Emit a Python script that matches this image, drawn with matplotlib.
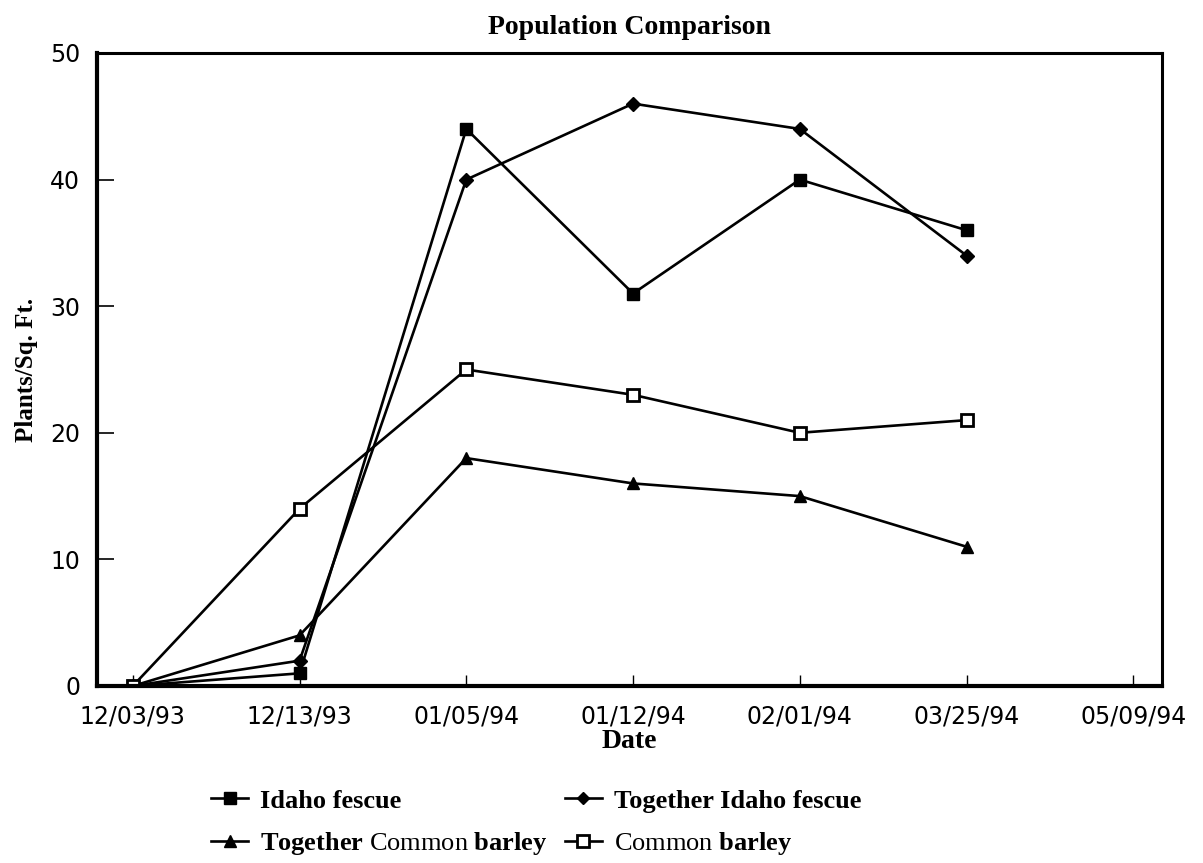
import matplotlib
matplotlib.use("Agg")
import matplotlib.pyplot as plt

# data
dates = ["12/03/93", "12/13/93", "01/05/94", "01/12/94", "02/01/94", "03/25/94", "05/09/94"]
idaho_fescue = [0, 1, 44, 31, 40, 36]
together_idaho = [0, 2, 40, 46, 44, 34]
together_barley = [0, 4, 18, 16, 15, 11]
common_barley = [0, 14, 25, 23, 20, 21]
yticks = [0, 10, 20, 30, 40, 50]

plt.rcParams['mathtext.fontset'] = 'custom'
plt.rcParams['mathtext.rm'] = 'Liberation Serif'
plt.rcParams['mathtext.bf'] = 'Liberation Serif:bold'

serif = 'Liberation Serif'

fig = plt.figure(figsize=(12.03, 8.63), dpi=100)
ax = fig.add_axes([0.0806, 0.2051, 0.885, 0.7335])

x = list(range(len(idaho_fescue)))
lw = 1.9
h1, = ax.plot(x, idaho_fescue, color='black', lw=lw, marker='s', ms=9, mfc='black', mec='black')
h2, = ax.plot(x, together_idaho, color='black', lw=lw, marker='D', ms=7, mfc='black', mec='black')
h3, = ax.plot(x, together_barley, color='black', lw=lw, marker='^', ms=9, mfc='black', mec='black')
h4, = ax.plot(x, common_barley, color='black', lw=lw, marker='s', ms=9, mfc='white', mec='black', mew=2)

ax.set_xlim(-0.215, 6.17)
ax.set_ylim(0, 50)
ax.set_xticks(range(len(dates)))
ax.set_xticklabels(dates, fontfamily='DejaVu Sans', fontsize=17)
ax.set_yticks(yticks)
ax.set_yticklabels([str(v) for v in yticks], fontfamily='DejaVu Sans', fontsize=17)
ax.tick_params(axis='x', direction='in', length=8, width=1, pad=13)
ax.tick_params(axis='y', direction='in', length=12, width=1.2, pad=12)

for side, w in [('left', 3.0), ('bottom', 3.0), ('top', 2.2), ('right', 2.2)]:
    ax.spines[side].set_linewidth(w)

ax.set_title("Population Comparison", fontfamily=serif, fontweight='bold', fontsize=20, pad=14)
ax.set_xlabel("Date", fontfamily=serif, fontweight='bold', fontsize=20, labelpad=1)
ax.set_ylabel("Plants/Sq. Ft.", fontfamily=serif, fontweight='bold', fontsize=18, labelpad=9)

# two rows: column one holds Idaho fescue / Together Common barley
labels = ["Idaho fescue",
          r"$\mathbf{Together}$ Common $\mathbf{barley}$",
          "Together Idaho fescue",
          r"Common $\mathbf{barley}$"]
leg = fig.legend([h1, h3, h2, h4], labels, loc='upper left', bbox_to_anchor=(0.156, 0.113),
                 ncol=2, frameon=False, prop={'family': serif, 'size': 19},
                 handlelength=1.4, handletextpad=0.45, columnspacing=0.65, labelspacing=0.65,
                 markerscale=0.9)
leg.get_texts()[0].set_fontweight('bold')
leg.get_texts()[2].set_fontweight('bold')

fig.savefig("out.png", dpi=100)
